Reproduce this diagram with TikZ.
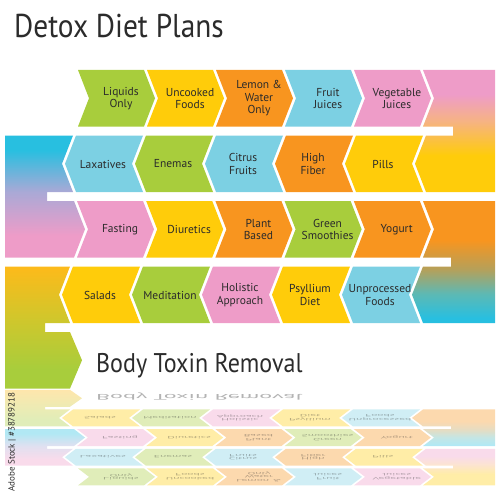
\documentclass[tikz,border=0pt]{standalone}
\usepackage{fontspec}
\setmainfont{PT Sans}
\newfontfamily\narrowfont{PT Sans}[FakeStretch=0.89]
\definecolor{cgreen}{HTML}{A8CD3C}
\definecolor{cyellow}{HTML}{FFCC0A}
\definecolor{corange}{HTML}{F8951F}
\definecolor{cblue}{HTML}{7CD0E3}
\definecolor{cpink}{HTML}{EE9CC8}
\definecolor{ccyan}{HTML}{28BFE0}
\definecolor{cpeach}{HTML}{F6B383}
\definecolor{clav}{HTML}{A9A9D6}
\definecolor{colive}{HTML}{B5A05A}
\definecolor{cteal}{HTML}{5DB9B4}
\definecolor{camber}{HTML}{FDBA1A}
\definecolor{cyg}{HTML}{CFC72C}
\definecolor{ctext}{HTML}{2B2B2B}
\pgfdeclareverticalshading{shRA}{100bp}{color(0bp)=(cyellow); color(40bp)=(cyellow); color(54bp)=(cpeach); color(65bp)=(cpink); color(100bp)=(cpink)}
\pgfdeclareverticalshading{shLA}{100bp}{color(0bp)=(cpink); color(34bp)=(cpink); color(52bp)=(clav); color(69bp)=(ccyan); color(100bp)=(ccyan)}
\pgfdeclareverticalshading{shRB}{100bp}{color(0bp)=(ccyan); color(27bp)=(ccyan); color(37bp)=(cteal); color(47bp)=(colive); color(59bp)=(corange); color(100bp)=(corange)}
\pgfdeclareverticalshading{shLB}{100bp}{color(0bp)=(cgreen); color(33bp)=(cgreen); color(53bp)=(cyg); color(75bp)=(camber); color(100bp)=(camber)}
\tikzset{
  lbl/.style={text=ctext, align=center, inner sep=0pt, font=\fontsize{11.5}{12.5}\selectfont},
}
% right-pointing chevron: name, left x, top y, colour, text
\newcommand\chevR[5]{%
  \fill[#4] (#2,#3) -- ++(66,0) -- ++(11,28.25) -- ++(-11,28.25) -- ++(-66,0) -- ++(11,-28.25) -- cycle;
  \node[lbl] (#1) at ({#2+43},{#3+28.5}) {#5};}
% left-pointing chevron: name, tip x, top y, colour, text
\newcommand\chevL[5]{%
  \fill[#4] (#2,{#3+28.25}) -- ++(11,-28.25) -- ++(67,0) -- ++(-11,28.25) -- ++(11,28.25) -- ++(-67,0) -- cycle;
  \node[lbl] (#1) at ({#2+38},{#3+28.5}) {#5};}
\newcommand\drawall[1]{%
  % row 1
  \chevR{#1a1}{78}{70}{cgreen}{Liquids\\Only}
  \chevR{#1a2}{147}{70}{cyellow}{Uncooked\\Foods}
  \chevR{#1a3}{216}{70}{corange}{Lemon \&\\Water\\Only}
  \chevR{#1a4}{285}{70}{cblue}{Fruit\\Juices}
  \chevR{#1a5}{354}{70}{cpink}{Vegetable\\Juices}
  \shade[shading=shRA] (423,70) -- (495,70) -- (495,192) -- (426,192) -- (415,163.75) -- (426,135.5) -- (453,135.5) -- (453,126.5) -- (423,126.5) -- (434,98.25) -- cycle;
  % row 2
  \chevL{#1b1}{65}{135.5}{cblue}{Laxatives}
  \chevL{#1b2}{135}{135.5}{cgreen}{Enemas}
  \chevL{#1b3}{205}{135.5}{cblue}{Citrus\\Fruits}
  \chevL{#1b4}{275}{135.5}{corange}{High\\Fiber}
  \chevL{#1b5}{345}{135.5}{cyellow}{Pills}
  \shade[shading=shLA] (5,135.5) -- (73,135.5) -- (62,163.75) -- (73,192) -- (47,192) -- (47,201) -- (74,201) -- (85,229.25) -- (74,257.5) -- (5,257.5) -- cycle;
  % row 3
  \chevR{#1c1}{77}{201}{cpink}{Fasting}
  \chevR{#1c2}{146.2}{201}{cyellow}{Diuretics}
  \chevR{#1c3}{215.4}{201}{corange}{Plant\\Based}
  \chevR{#1c4}{284.6}{201}{cgreen}{Green\\Smoothies}
  \chevR{#1c5}{353.8}{201}{corange}{Yogurt}
  \shade[shading=shRB] (423,201) -- (495,201) -- (495,323) -- (423,323) -- (412,294.75) -- (423,266.5) -- (451,266.5) -- (451,257.5) -- (423,257.5) -- (434,229.25) -- cycle;
  % row 4
  \chevL{#1d1}{62}{266.5}{cyellow}{Salads}
  \chevL{#1d2}{132}{266.5}{cgreen}{Meditation}
  \chevL{#1d3}{202}{266.5}{cpink}{Holistic\\Approach}
  \chevL{#1d4}{272}{266.5}{cyellow}{Psyllium\\Diet}
  \chevL{#1d5}{342}{266.5}{cblue}{Unprocessed\\Foods}
  \shade[shading=shLB] (5,266.5) -- (70,266.5) -- (59,294.75) -- (70,323) -- (45,323) -- (45,332) -- (70,332) -- (82,360.25) -- (70,388.5) -- (5,388.5) -- cycle;
  \node[anchor=base west, inner sep=0pt, text=ctext, font=\narrowfont\fontsize{27}{30}\selectfont] (#1body) at (96,372) {Body Toxin Removal};
}
\begin{document}
\begin{tikzpicture}[x=1pt,y=-1pt]
\useasboundingbox (0,0) rectangle (500,500);
\node[anchor=base west, inner sep=0pt, text=ctext, font=\narrowfont\fontsize{33}{36}\selectfont] (title) at (14,38) {Detox Diet Plans};
\drawall{}
\begin{scope}[opacity=0.36, shift={(0,389.5)}, yscale=-0.3, shift={(0,-389.5)}, every node/.append style={transform shape}]
\drawall{r}
\end{scope}
\node[rotate=90, inner sep=0pt, text=ctext, font=\fontsize{9}{10}\selectfont] (wm) at (12,442) {Adobe Stock | \#38789218};
\end{tikzpicture}
\end{document}
